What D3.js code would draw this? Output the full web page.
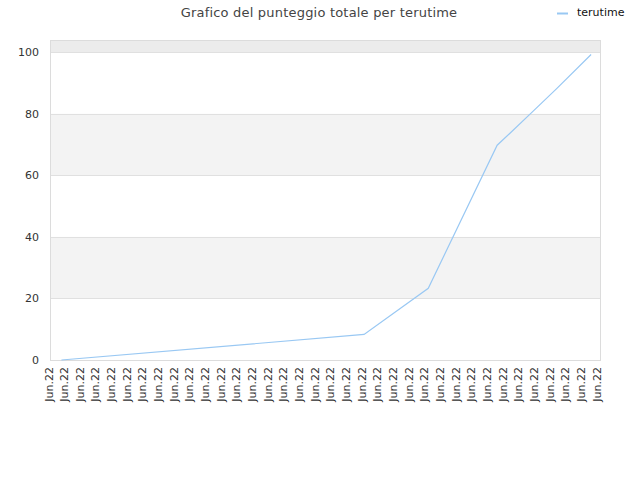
<!DOCTYPE html>
<html>
<head>
<meta charset="utf-8">
<script src="https://cdn.jsdelivr.net/npm/d3@7"></script>
<style>
  body { margin: 0; background: #fff; }
  text { font-family: "DejaVu Sans", sans-serif; }
</style>
</head>
<body>
<script>
// chart data
var tickLabels = d3.range(36).map(function() { return "Jun.22"; });
// position of each point along the label axis (label index units) and its score
var pointPos = [0.57, 19.9, 24.0, 28.4, 29.2, 30.7, 32.2, 34.4];
var pointVal = [0, 8.3, 23.3, 69.8, 73.6, 80.9, 88.2, 99.3];
var yTicks = [0, 20, 40, 60, 80, 100];
var seriesName = "terutime";

var width = 640,
    height = 480;

var svg = d3.select("body")
            .append("svg")
            .attr("width", width)
            .attr("height", height);

var plotLeft = 50, plotRight = 600, plotTop = 40, plotBottom = 360;

var x = d3.scaleLinear()
    .domain([0, tickLabels.length - 1])
    .range([plotLeft + 2.5, plotRight + 0.5]);

var y = d3.scaleLinear()
    .domain([0, 104])
    .range([plotBottom, plotTop]);

// background bands
var bands = [[20, 40], [60, 80]];
svg.append("g")
  .selectAll("rect")
  .data(bands)
  .enter().append("rect")
    .attr("x", plotLeft)
    .attr("width", plotRight - plotLeft)
    .attr("y", function(d) { return y(d[1]); })
    .attr("height", function(d) { return y(d[0]) - y(d[1]); })
    .attr("fill", "#f3f3f3");

svg.append("rect")
    .attr("x", plotLeft)
    .attr("width", plotRight - plotLeft)
    .attr("y", y(104))
    .attr("height", y(100) - y(104))
    .attr("fill", "#ececec");

// grid lines
svg.append("g")
  .selectAll("line")
  .data(yTicks.slice(1))
  .enter().append("line")
    .attr("x1", plotLeft)
    .attr("x2", plotRight)
    .attr("y1", function(d) { return Math.round(y(d)) + 0.5; })
    .attr("y2", function(d) { return Math.round(y(d)) + 0.5; })
    .attr("stroke", "#e0e0e0");

// frame
svg.append("rect")
    .attr("x", plotLeft + 0.5)
    .attr("y", plotTop + 0.5)
    .attr("width", plotRight - plotLeft)
    .attr("height", plotBottom - plotTop)
    .attr("fill", "none")
    .attr("stroke", "#dcdcdc");

// y labels
svg.append("g")
  .selectAll("text")
  .data(yTicks)
  .enter().append("text")
    .attr("x", 39)
    .attr("y", function(d) { return y(d) + 4; })
    .attr("text-anchor", "end")
    .attr("font-size", 11)
    .attr("fill", "#333")
    .text(function(d) { return d; });

// x labels
svg.append("g")
  .selectAll("text")
  .data(tickLabels)
  .enter().append("text")
    .attr("transform", function(d, i) {
        return "translate(" + x(i) + "," + 367 + ") rotate(-90)";
    })
    .attr("text-anchor", "end")
    .attr("font-size", 11)
    .attr("fill", "#333")
    .text(function(d) { return d; });

// the line
var line = d3.line()
    .x(function(d) { return x(d[0]); })
    .y(function(d) { return y(d[1]); });

svg.append("path")
    .datum(d3.zip(pointPos, pointVal))
    .attr("fill", "none")
    .attr("stroke", "#99c8f3")
    .attr("stroke-width", 1.2)
    .attr("d", line);

// title
svg.append("text")
    .attr("x", 319)
    .attr("y", 17)
    .attr("text-anchor", "middle")
    .attr("font-size", 13)
    .attr("letter-spacing", 0.2)
    .attr("fill", "#444")
    .text("Grafico del punteggio totale per terutime");

// legend
svg.append("line")
    .attr("x1", 557).attr("x2", 568)
    .attr("y1", 13.5).attr("y2", 13.5)
    .attr("stroke", "#99c8f3")
    .attr("stroke-width", 2);

svg.append("text")
    .attr("x", 577)
    .attr("y", 16)
    .attr("font-size", 11)
    .attr("fill", "#111")
    .text(seriesName);
</script>
</body>
</html>
